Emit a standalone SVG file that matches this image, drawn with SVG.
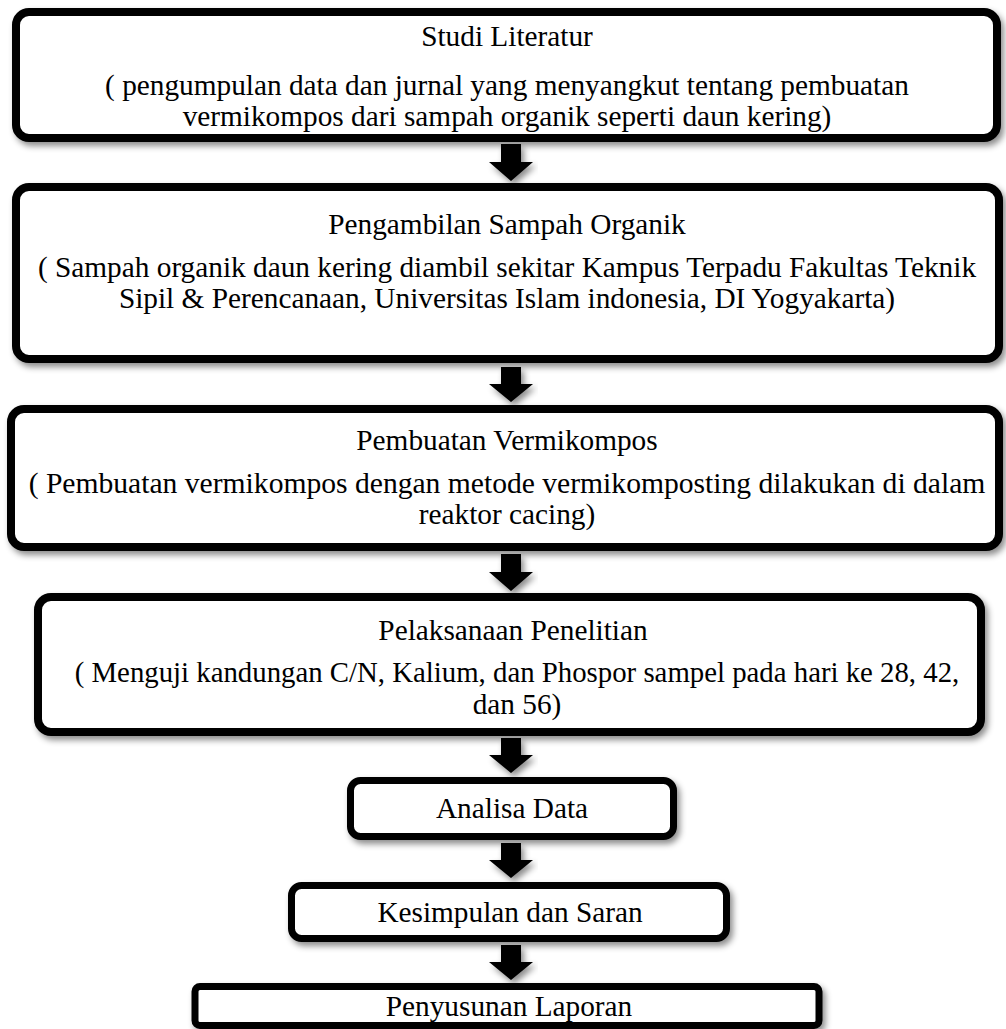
<svg xmlns="http://www.w3.org/2000/svg" width="1006" height="1029" viewBox="0 0 1006 1029">
<defs>
<filter id="sh" x="-10%" y="-20%" width="120%" height="150%">
<feDropShadow dx="3" dy="4" stdDeviation="3" flood-color="#000" flood-opacity="0.45"/>
</filter>
<style>
.box{fill:#fff;stroke:#000;stroke-width:8;filter:url(#sh)}
.sm{stroke-width:7}
.t{font-family:"Liberation Serif","Times New Roman",serif;font-size:29.3px;fill:#000;text-anchor:middle}
.arr{fill:#000;filter:url(#sh)}
</style>
</defs>
<rect width="1006" height="1029" fill="#fff"/>
<g id="connectors">
<path class="arr" d="M501,144 H521 V162 H533 L511,181 L489,162 H501 Z"/>
<path class="arr" d="M501,367 H521 V384 H533 L511,402 L489,384 H501 Z"/>
<path class="arr" d="M501,554 H521 V572 H533 L511,591 L489,572 H501 Z"/>
<path class="arr" d="M501,738 H521 V755 H533 L511,773 L489,755 H501 Z"/>
<path class="arr" d="M501,843 H521 V860 H533 L511,878 L489,860 H501 Z"/>
<path class="arr" d="M501,945 H521 V962 H533 L511,980 L489,962 H501 Z"/>
</g>
<g id="studi-literatur">
<rect class="box" x="16" y="12" width="981" height="126" rx="13"/>
<text class="t" x="507" y="46">Studi Literatur</text>
<text class="t" x="507" y="95">( pengumpulan data dan jurnal yang menyangkut tentang pembuatan</text>
<text class="t" x="507" y="126">vermikompos dari sampah organik seperti daun kering)</text>
</g>
<g id="pengambilan-sampah">
<rect class="box" x="16" y="187" width="983" height="172" rx="13"/>
<text class="t" x="507" y="234">Pengambilan Sampah Organik</text>
<text class="t" x="507" y="277">( Sampah organik daun kering diambil sekitar Kampus Terpadu Fakultas Teknik</text>
<text class="t" x="507" y="308">Sipil &amp; Perencanaan, Universitas Islam indonesia, DI Yogyakarta)</text>
</g>
<g id="pembuatan-vermikompos">
<rect class="box" x="11" y="409" width="988" height="138" rx="13"/>
<text class="t" x="507" y="450">Pembuatan Vermikompos</text>
<text class="t" x="507" y="493" style="font-size:29.6px">( Pembuatan vermikompos dengan metode vermikomposting dilakukan di dalam</text>
<text class="t" x="507" y="524">reaktor cacing)</text>
</g>
<g id="pelaksanaan-penelitian">
<rect class="box" x="38" y="597" width="943" height="135" rx="13"/>
<text class="t" x="513" y="640">Pelaksanaan Penelitian</text>
<text class="t" x="517" y="682" style="font-size:28.8px">( Menguji kandungan C/N, Kalium, dan Phospor sampel pada hari ke 28, 42,</text>
<text class="t" x="517" y="714">dan 56)</text>
</g>
<g id="analisa-data">
<rect class="box sm" x="350.5" y="780.5" width="323" height="56" rx="10"/>
<text class="t" x="512" y="818">Analisa Data</text>
</g>
<g id="kesimpulan">
<rect class="box sm" x="291.5" y="885.5" width="435" height="53" rx="10"/>
<text class="t" x="510" y="922">Kesimpulan dan Saran</text>
</g>
<g id="penyusunan-laporan">
<rect class="box sm" x="195" y="986.5" width="624" height="39" rx="5"/>
<text class="t" x="509" y="1016">Penyusunan Laporan</text>
</g>
</svg>
